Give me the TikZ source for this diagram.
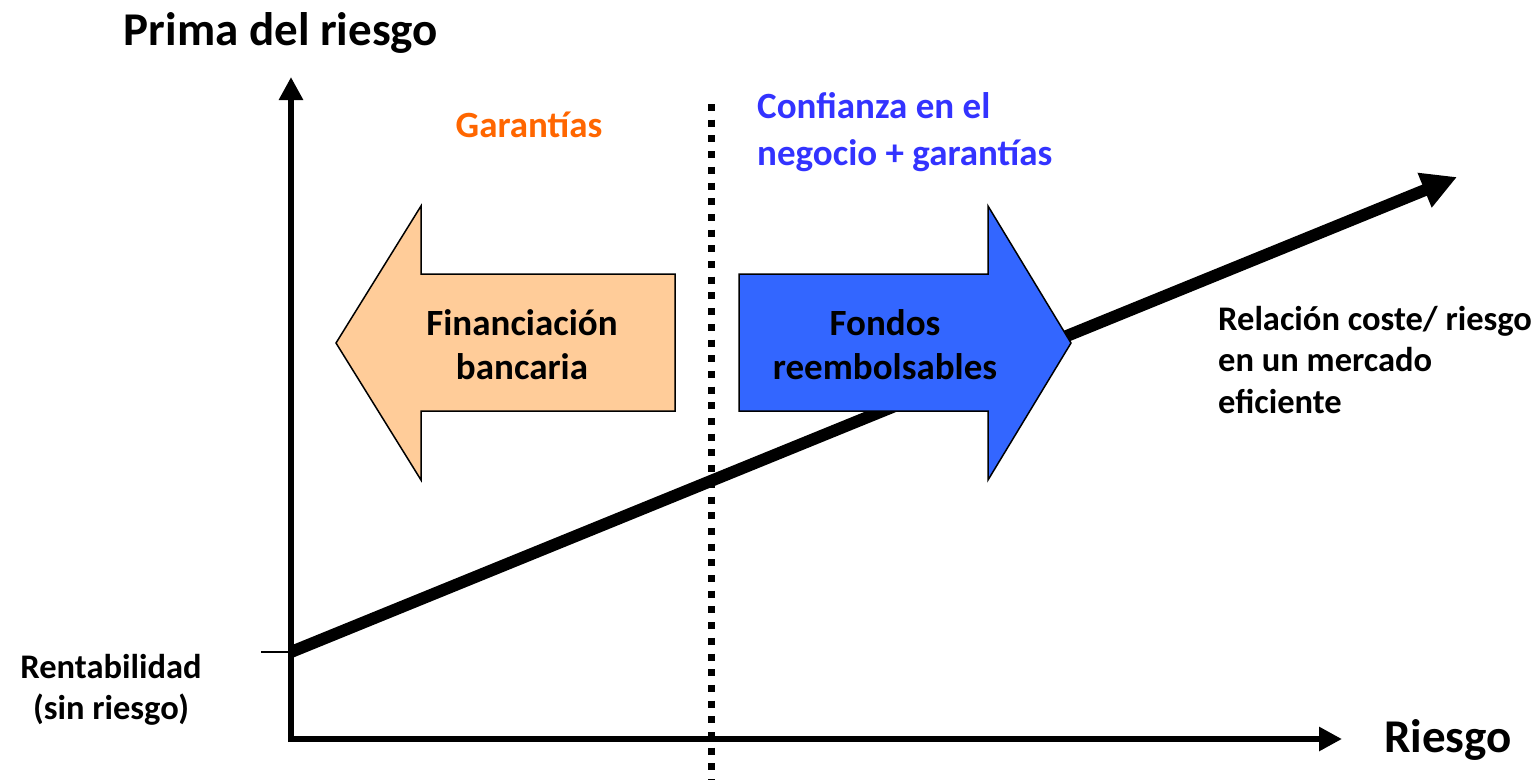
\documentclass[tikz,border=0pt]{standalone}
\usepackage{fontspec}
\setmainfont{Carlito}
\usetikzlibrary{arrows.meta,positioning}
\definecolor{naranja}{HTML}{FF6600}
\definecolor{azultexto}{HTML}{3333FF}
\definecolor{salmon}{HTML}{FFCC99}
\definecolor{azulflecha}{HTML}{3366FF}

\begin{document}
\begin{tikzpicture}[x=1pt,y=-1pt,
    eje/.style={line width=6pt,-{Triangle[length=23pt,width=23pt]}},
    recta/.style={line width=12pt,-{Triangle[length=35pt,width=35pt]}},
    flecha/.style={draw=black,line width=1.5pt,line join=miter},
    rotulo/.style={inner sep=0pt,align=center},
    tgrande/.style={font={\fontsize{47}{56}\selectfont\bfseries}},
    tmedio/.style={font={\fontsize{37}{44}\selectfont\bfseries}},
    tchico/.style={font={\fontsize{34.5}{41.5}\selectfont\bfseries}}]
\useasboundingbox (0,0) rectangle (1540,780);

% coordinates of the plot
\coordinate (origen) at (291,739);
\coordinate (ytope) at (291,77);
\coordinate (xtope) at (1342,739);
\coordinate (tick) at (261,652);
\coordinate (r0) at (291,652);
\coordinate (r1) at (1457,177);
\coordinate (div0) at (711,104);
\coordinate (div1) at (711,780);

% axes
\draw[eje] (291,742) -- (ytope);
\draw[eje] (288,739) -- (xtope);
\draw[line width=1.3pt] (tick) -- (r0);

% cost / risk line
\draw[recta] (r0) -- (r1);

% dotted divider
\draw[line width=7pt,dash pattern=on 7pt off 8.7pt] (div0) -- (div1);

% block arrows
\draw[flecha,fill=salmon] (675,274) -- (421,274) -- (421,206) -- (336,343)
    -- (421,480) -- (421,411) -- (675,411) -- cycle;
\draw[flecha,fill=azulflecha] (739,274) -- (988,274) -- (988,206) -- (1071,343)
    -- (988,480) -- (988,411) -- (739,411) -- cycle;

% labels
\node[rotulo,tgrande] (prima) at (281,33) {Prima del riesgo};
\node[rotulo,tgrande] (riesgo) at (1448,740) {Riesgo};
\node[rotulo,tmedio,text=naranja] (garantias) at (529,125) {Garantías};
\node[rotulo,tmedio,align=left,anchor=west,text=azultexto,font={\fontsize{37}{47}\selectfont\bfseries}] (confianza) at (757,132)
    {Confianza en el\\negocio + garantías};
\node[rotulo,tmedio] (financiacion) at (522,345) {Financiación\\bancaria};
\node[rotulo,tmedio] (fondos) at (885,345) {Fondos\\reembolsables};
\node[rotulo,tchico,align=left,anchor=west] (relacion) at (1218,360)
    {Relación coste/ riesgo\\en un mercado\\eficiente};
\node[rotulo,tchico] (rentabilidad) at (111,690) {Rentabilidad\\(sin riesgo)};
\end{tikzpicture}
\end{document}
